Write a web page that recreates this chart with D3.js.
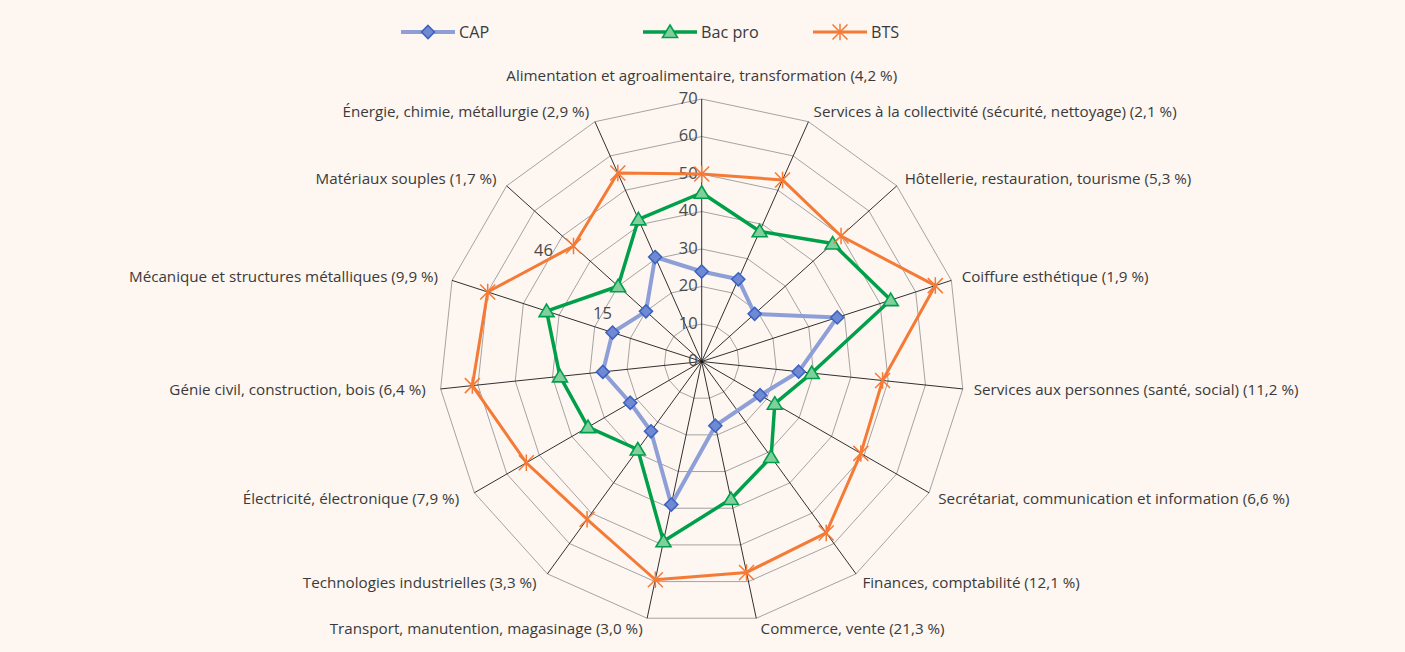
<!DOCTYPE html>
<html><head><meta charset="utf-8">
<script src="https://cdn.jsdelivr.net/npm/d3@7"></script>
<style>
html,body{margin:0;padding:0;background:#fdf6f1;}
svg{display:block;font-family:"Open Sans",sans-serif;}
</style></head>
<body><svg id="chart" width="1405" height="652"></svg>
<script>
const categories = [
  "Alimentation et agroalimentaire, transformation (4,2 %)",
  "Services à la collectivité (sécurité, nettoyage) (2,1 %)",
  "Hôtellerie, restauration, tourisme (5,3 %)",
  "Coiffure esthétique (1,9 %)",
  "Services aux personnes (santé, social) (11,2 %)",
  "Secrétariat, communication et information (6,6 %)",
  "Finances, comptabilité (12,1 %)",
  "Commerce, vente (21,3 %)",
  "Transport, manutention, magasinage (3,0 %)",
  "Technologies industrielles (3,3 %)",
  "Électricité, électronique (7,9 %)",
  "Génie civil, construction, bois (6,4 %)",
  "Mécanique et structures métalliques (9,9 %)",
  "Matériaux souples (1,7 %)",
  "Énergie, chimie, métallurgie (2,9 %)"
];
const seriesNames = ["CAP", "Bac pro", "BTS"];
const capValues    = [24, 24, 19, 38, 26, 18, null, 17.5, 39, 23, 22, 26.5, 25, 20, 30.5];
const bacproValues = [45, 38, 47, 53, 29.5, 22.5, 31.5, 37.5, 49, 29, 35, 38, 43.5, 30, 41.5];
const btsValues    = [50, 53, 50, 65.5, 48.5, 49, 56.5, 57.5, 59.5, 52, 54, 61.5, 60, 46, 55];
const tickValues = [0, 10, 20, 30, 40, 50, 60, 70];
const dataLabels = [
  {series: 2, axis: 13, text: "46"},
  {series: 0, axis: 12, text: "15"}
];

const svg = d3.select("#chart");
const W = 1405, H = 652;
const cx = 701.7, cy = 361.5, R = 262.5;
svg.append("rect").attr("width", W).attr("height", H).attr("fill", "#fdf6f1");

const r = d3.scaleLinear().domain([0, 70]).range([0, R]);
const a = d3.scaleLinear().domain([0, categories.length]).range([0, 2 * Math.PI]);
const g = svg.append("g").attr("transform", `translate(${cx},${cy})`);
const pt = (i, v) => [Math.sin(a(i)) * r(v), -Math.cos(a(i)) * r(v)];

// grid rings
const ring = d3.lineRadial().angle((d, i) => a(i)).radius(d => r(d)).curve(d3.curveLinearClosed);
tickValues.filter(t => t > 0).forEach(t => {
  g.append("path").attr("d", ring(categories.map(() => t)))
    .attr("fill", "none").attr("stroke", "#9a9a9a").attr("stroke-width", 0.9);
});
// spokes
categories.forEach((c, i) => {
  const [x, y] = pt(i, 70);
  g.append("line").attr("x1", 0).attr("y1", 0).attr("x2", x).attr("y2", y)
    .attr("stroke", "#1a1a1a").attr("stroke-width", 0.9);
});
// tick labels
tickValues.forEach(t => {
  g.append("text").attr("x", -4).attr("y", -r(t)).attr("dy", "0.3em")
    .attr("text-anchor", "end").attr("font-size", 16.5).attr("fill", "#4a4a4a").text(t);
});
// category labels
categories.forEach((c, i) => {
  const th = a(i);
  const [x, y] = pt(i, 70);
  const s = Math.sin(th), co = Math.cos(th);
  let tx, ty, anchor;
  if (i === 0) { tx = x; ty = y - 23; anchor = "middle"; }
  else if (s > 0) {
    tx = x + 4 + 7 * s * s;
    ty = y - 11 * co;
    anchor = "start";
  } else {
    const extra = (co < 0 && s * s > 0.2 && s * s < 0.9) ? 3 : 0;
    tx = x - (4 + 11 * s * s + extra);
    ty = y - 11 * co;
    anchor = "end";
  }
  g.append("text").attr("x", tx).attr("y", ty).attr("dy", "0.35em")
    .attr("text-anchor", anchor).attr("font-size", 15.2).attr("fill", "#3a3a3a").text(c);
});

const styles = [
  {line: "#8e9fd8", width: 4, marker: "diamond", fill: "#6f8ad3", stroke: "#3c62c2"},
  {line: "#00a04b", width: 3.5, marker: "triangle", fill: "#80cf9c", stroke: "#00a04b"},
  {line: "#f47a36", width: 3, marker: "star", fill: "none", stroke: "#f47a36"}
];
const allValues = [capValues, bacproValues, btsValues];

function drawMarker(sel, type, st, x, y) {
  if (type === "diamond") {
    sel.append("path").attr("d", `M${x},${y-6.5}L${x+6.5},${y}L${x},${y+6.5}L${x-6.5},${y}Z`)
      .attr("fill", st.fill).attr("stroke", st.stroke).attr("stroke-width", 1.6);
  } else if (type === "triangle") {
    sel.append("path").attr("d", `M${x},${y-7}L${x+7.5},${y+5.5}L${x-7.5},${y+5.5}Z`)
      .attr("fill", st.fill).attr("stroke", st.stroke).attr("stroke-width", 1.6);
  } else {
    const h = 7.5;
    sel.append("path").attr("d", `M${x-h},${y-h}L${x+h},${y+h}M${x-h},${y+h}L${x+h},${y-h}M${x},${y-h*1.1}L${x},${y+h*1.1}`)
      .attr("fill", "none").attr("stroke", st.stroke).attr("stroke-width", 1.5);
  }
}

allValues.forEach((vals, si) => {
  const st = styles[si];
  const pts = vals.map((v, i) => ({v, i})).filter(d => d.v !== null);
  const line = d3.lineRadial().angle(d => a(d.i)).radius(d => r(d.v)).curve(d3.curveLinearClosed);
  g.append("path").attr("d", line(pts)).attr("fill", "none")
    .attr("stroke", st.line).attr("stroke-width", st.width).attr("stroke-linejoin", "round");
});
allValues.forEach((vals, si) => {
  const st = styles[si];
  vals.forEach((v, i) => {
    if (v === null) return;
    const [x, y] = pt(i, v);
    drawMarker(g, st.marker, st, x, y);
  });
});

// data labels
dataLabels.forEach(d => {
  const [x, y] = pt(d.axis, allValues[d.series][d.axis]);
  const off = d.series === 2 ? [-30, 4] : [-10, -19];
  g.append("text").attr("x", x + off[0]).attr("y", y + off[1]).attr("dy", "0.35em")
    .attr("text-anchor", "middle").attr("font-size", 16.5).attr("fill", "#4a4a4a").text(d.text);
});

// legend
const legendX = [401, 643, 813];
seriesNames.forEach((n, si) => {
  const st = styles[si];
  const lg = svg.append("g");
  const x0 = legendX[si], y0 = 32;
  lg.append("line").attr("x1", x0).attr("x2", x0 + 54).attr("y1", y0).attr("y2", y0)
    .attr("stroke", st.line).attr("stroke-width", st.width);
  drawMarker(lg, st.marker, Object.assign({}, st), x0 + 27, y0);
  lg.append("text").attr("x", x0 + 58).attr("y", y0).attr("dy", "0.35em")
    .attr("font-size", 16.2).attr("fill", "#3a3a3a").text(n);
});
</script></body></html>
